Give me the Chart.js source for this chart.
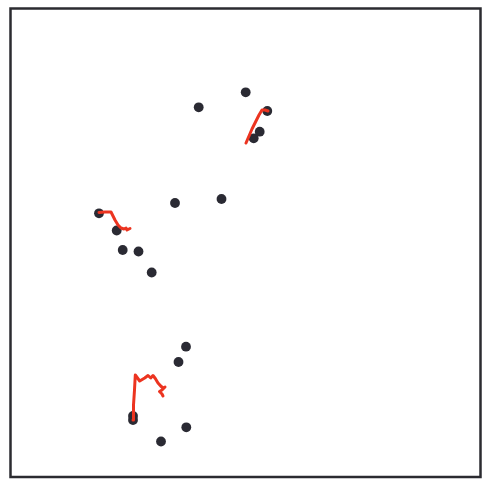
<!DOCTYPE html>
<html>
<head>
<meta charset="utf-8">
<script src="https://cdn.jsdelivr.net/npm/chart.js@4/dist/chart.umd.min.js"></script>
<style>
html,body{margin:0;padding:0;background:#fff;}
#wrap{width:487px;height:486px;}
</style>
</head>
<body>
<div id="wrap"><canvas id="c" width="487" height="486"></canvas></div>
<script>
// Point positions (data units: x 0..470, y 0..468.5)
const dotsX = [235.2, 188.2, 256.8, 249.2, 243.2, 164.5, 211, 88.5, 106.2, 112.2, 128, 141.2, 175.5, 168, 122.5, 122.5, 175.8, 150.5];
const dotsY = [384.7, 369.7, 366, 345.3, 338.7, 274, 278, 263.7, 246.5, 227, 225.5, 204.5, 130.3, 115, 61, 57, 49.7, 35.5];

// Trajectories
const track1X = [235.5, 238.5, 241.5, 243.5, 245.5, 248.5, 251.5, 254.5, 257.5];
const track1Y = [334, 341, 348, 352, 356, 362, 367, 367, 366];
const track2X = [88.5, 94.5, 100.5, 102.5, 104.5, 107.5, 110.5, 113.5, 115.5, 116.5, 118.5, 119.5];
const track2Y = [264.5, 265, 265, 261, 257, 252, 249, 248, 249, 247, 248, 248.5];
const track3X = [122.5, 123, 124, 124.8, 129.2, 134.2, 137.5, 140.2, 142.5, 144.8, 147.5, 150.2, 152.5, 154.5, 151.5, 149, 151.5, 152.5];
const track3Y = [57, 72, 87, 102, 96, 99, 101.5, 99, 101.5, 98.5, 94, 91, 89, 90, 87, 85.5, 83, 81];

const zip = (xs, ys) => xs.map((x, i) => ({x: x, y: ys[i]}));

const lineStyle = {
  showLine: true, borderColor: '#ec3420', borderWidth: 3, pointRadius: 0,
  tension: 0, fill: false, order: 0, borderJoinStyle: 'round', borderCapStyle: 'round'
};

const frame = {
  id: 'frame',
  afterDraw(chart) {
    const a = chart.chartArea, ctx = chart.ctx;
    ctx.save();
    ctx.strokeStyle = '#2b2b30';
    ctx.lineWidth = 2.5;
    ctx.strokeRect(a.left, a.top, a.right - a.left, a.bottom - a.top);
    ctx.restore();
  }
};

new Chart(document.getElementById('c'), {
  type: 'scatter',
  data: {
    datasets: [
      Object.assign({data: zip(track1X, track1Y)}, lineStyle),
      Object.assign({data: zip(track2X, track2Y)}, lineStyle),
      Object.assign({data: zip(track3X, track3Y)}, lineStyle),
      {data: zip(dotsX, dotsY), pointRadius: 4.9, pointBackgroundColor: '#2a2a33',
       pointBorderWidth: 0, borderColor: '#2a2a33', showLine: false, order: 1}
    ]
  },
  options: {
    responsive: false,
    animation: false,
    layout: {padding: {left: 10.5, right: 6.5, top: 8.5, bottom: 9}},
    plugins: {legend: {display: false}, tooltip: {enabled: false}},
    scales: {
      x: {type: 'linear', min: 0, max: 470, display: false},
      y: {type: 'linear', min: 0, max: 468.5, display: false}
    }
  },
  plugins: [frame]
});
</script>
</body>
</html>
